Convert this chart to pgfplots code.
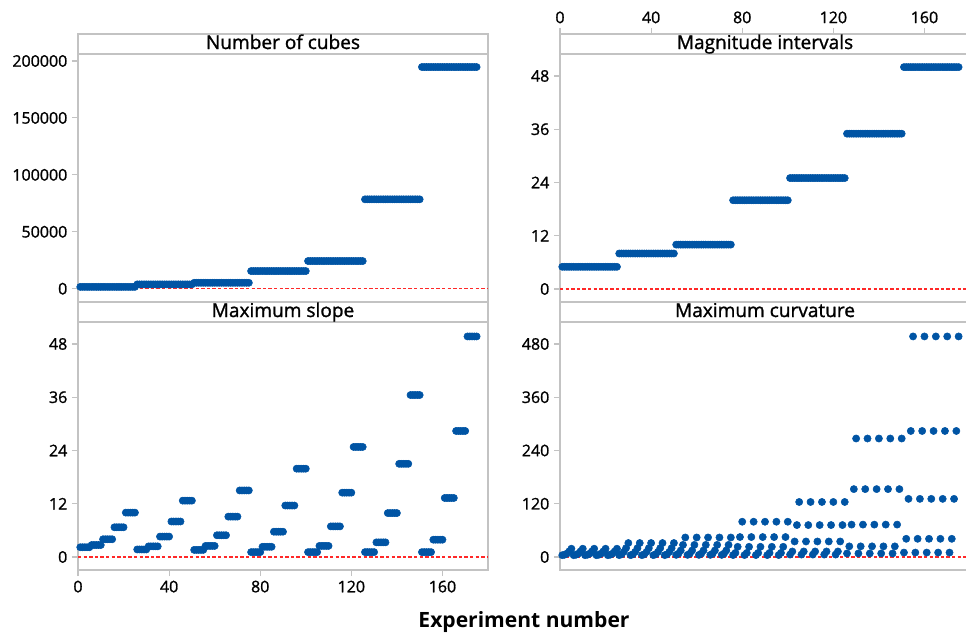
\documentclass[border=0pt]{standalone}
\usepackage{pgfplots}
\pgfplotsset{compat=1.18}
\usepackage{pgfplotstable}
\usepackage{fontspec}
\setmainfont{Open Sans}
\newfontfamily\heavy{Open Sans}[UprightFeatures={FakeBold=1.2}]
\definecolor{mblue}{RGB}{0,84,164}
\definecolor{frame}{RGB}{195,195,195}
\definecolor{refred}{RGB}{255,40,40}
\pgfplotstableread{
x cubes mag slope curv
1 1600 5 2.2 4.1
2 1600 5 2.2 5.1
3 1600 5 2.2 7.5
4 1600 5 2.2 12.6
5 1600 5 2.2 18.7
6 1600 5 2.7 4.1
7 1600 5 2.7 5.1
8 1600 5 2.7 7.5
9 1600 5 2.7 12.6
10 1600 5 2.7 18.7
11 1600 5 4.0 4.1
12 1600 5 4.0 5.1
13 1600 5 4.0 7.5
14 1600 5 4.0 12.6
15 1600 5 4.0 18.7
16 1600 5 6.7 4.1
17 1600 5 6.7 5.1
18 1600 5 6.7 7.5
19 1600 5 6.7 12.6
20 1600 5 6.7 18.7
21 1600 5 10.0 4.1
22 1600 5 10.0 5.1
23 1600 5 10.0 7.5
24 1600 5 10.0 12.6
25 1600 5 10.0 18.7
26 3800 8 1.7 4.2
27 3800 8 1.7 6.0
28 3800 8 1.7 11.5
29 3800 8 1.7 20
30 3800 8 1.7 31.5
31 3800 8 2.4 4.2
32 3800 8 2.4 6.0
33 3800 8 2.4 11.5
34 3800 8 2.4 20
35 3800 8 2.4 31.5
36 3800 8 4.6 4.2
37 3800 8 4.6 6.0
38 3800 8 4.6 11.5
39 3800 8 4.6 20
40 3800 8 4.6 31.5
41 3800 8 8.0 4.2
42 3800 8 8.0 6.0
43 3800 8 8.0 11.5
44 3800 8 8.0 20
45 3800 8 8.0 31.5
46 3800 8 12.7 4.2
47 3800 8 12.7 6.0
48 3800 8 12.7 11.5
49 3800 8 12.7 20
50 3800 8 12.7 31.5
51 5200 10 1.6 4.8
52 5200 10 1.6 7.5
53 5200 10 1.6 14.7
54 5200 10 1.6 27.3
55 5200 10 1.6 44
56 5200 10 2.5 4.8
57 5200 10 2.5 7.5
58 5200 10 2.5 14.7
59 5200 10 2.5 27.3
60 5200 10 2.5 44
61 5200 10 4.9 4.8
62 5200 10 4.9 7.5
63 5200 10 4.9 14.7
64 5200 10 4.9 27.3
65 5200 10 4.9 44
66 5200 10 9.1 4.8
67 5200 10 9.1 7.5
68 5200 10 9.1 14.7
69 5200 10 9.1 27.3
70 5200 10 9.1 44
71 5200 10 15.0 4.8
72 5200 10 15.0 7.5
73 5200 10 15.0 14.7
74 5200 10 15.0 27.3
75 5200 10 15.0 44
76 15500 20 1.1 4.4
77 15500 20 1.1 9.2
78 15500 20 1.1 23
79 15500 20 1.1 45
80 15500 20 1.1 79.5
81 15500 20 2.3 4.4
82 15500 20 2.3 9.2
83 15500 20 2.3 23
84 15500 20 2.3 45
85 15500 20 2.3 79.5
86 15500 20 5.7 4.4
87 15500 20 5.7 9.2
88 15500 20 5.7 23
89 15500 20 5.7 45
90 15500 20 5.7 79.5
91 15500 20 11.6 4.4
92 15500 20 11.6 9.2
93 15500 20 11.6 23
94 15500 20 11.6 45
95 15500 20 11.6 79.5
96 15500 20 19.9 4.4
97 15500 20 19.9 9.2
98 15500 20 19.9 23
99 15500 20 19.9 45
100 15500 20 19.9 79.5
101 24300 25 1.1 5.5
102 24300 25 1.1 12.5
103 24300 25 1.1 35
104 24300 25 1.1 72
105 24300 25 1.1 124
106 24300 25 2.5 5.5
107 24300 25 2.5 12.5
108 24300 25 2.5 35
109 24300 25 2.5 72
110 24300 25 2.5 124
111 24300 25 6.9 5.5
112 24300 25 6.9 12.5
113 24300 25 6.9 35
114 24300 25 6.9 72
115 24300 25 6.9 124
116 24300 25 14.5 5.5
117 24300 25 14.5 12.5
118 24300 25 14.5 35
119 24300 25 14.5 72
120 24300 25 14.5 124
121 24300 25 24.8 5.5
122 24300 25 24.8 12.5
123 24300 25 24.8 35
124 24300 25 24.8 72
125 24300 25 24.8 124
126 78500 35 1.1 8
127 78500 35 1.1 24
128 78500 35 1.1 73
129 78500 35 1.1 153
130 78500 35 1.1 267
131 78500 35 3.3 8
132 78500 35 3.3 24
133 78500 35 3.3 73
134 78500 35 3.3 153
135 78500 35 3.3 267
136 78500 35 9.9 8
137 78500 35 9.9 24
138 78500 35 9.9 73
139 78500 35 9.9 153
140 78500 35 9.9 267
141 78500 35 21.0 8
142 78500 35 21.0 24
143 78500 35 21.0 73
144 78500 35 21.0 153
145 78500 35 21.0 267
146 78500 35 36.5 8
147 78500 35 36.5 24
148 78500 35 36.5 73
149 78500 35 36.5 153
150 78500 35 36.5 267
151 194700 50 1.1 10
152 194700 50 1.1 41
153 194700 50 1.1 131
154 194700 50 1.1 284
155 194700 50 1.1 497
156 194700 50 3.9 10
157 194700 50 3.9 41
158 194700 50 3.9 131
159 194700 50 3.9 284
160 194700 50 3.9 497
161 194700 50 13.3 10
162 194700 50 13.3 41
163 194700 50 13.3 131
164 194700 50 13.3 284
165 194700 50 13.3 497
166 194700 50 28.4 10
167 194700 50 28.4 41
168 194700 50 28.4 131
169 194700 50 28.4 284
170 194700 50 28.4 497
171 194700 50 49.7 10
172 194700 50 49.7 41
173 194700 50 49.7 131
174 194700 50 49.7 284
175 194700 50 49.7 497
}\data
\pgfplotsset{
  panel/.style={
    scale only axis, width=307.5pt, height=201pt,
    xmin=0, xmax=180,
    axis line style={draw=frame, line width=0.8pt},
    every tick/.style={draw=frame, line width=0.8pt},
    major tick length=4.5pt,
    tick align=outside,
    ytick pos=left,
    xtick={0,40,80,120,160},
    tick label style={font=\heavy\fontsize{12}{13}\selectfont, text=black},
    /pgf/number format/assume math mode=true,
    scaled y ticks=false,
    yticklabel style={/pgf/number format/fixed, /pgf/number format/1000 sep={}},
    clip=false,
  },
  dots/.style={only marks, mark=*, mark size=2.7pt, color=mblue, mark options={draw=none, fill=mblue}},
  zero/.style={refred, line width=0.9pt, dash pattern=on 2.6pt off 1.6pt, forget plot},
}
\newcommand{\strip}[1]{%
  \draw[frame, line width=0.8pt] (rel axis cs:0,0.92537) -- (rel axis cs:1,0.92537);
  \node[font=\heavy\fontsize{14.3}{16}\selectfont, anchor=base, inner sep=0pt] at (rel axis cs:0.5,0.944) {#1};}
\begin{document}
\begin{tikzpicture}
\path[use as bounding box] (0,0) rectangle (724.5pt,477.75pt);
% top-left
\begin{axis}[panel, at={(58.5pt,251.25pt)}, anchor=south west,
  ymin=-11682, ymax=223716, ytick={0,50000,100000,150000,200000}, xmajorticks=false]
  \addplot[zero] coordinates {(0,0) (180,0)};
  \addplot[dots] table[x=x,y=cubes] {\data};
  \strip{Number of cubes}
\end{axis}
% top-right
\begin{axis}[panel, at={(420pt,251.25pt)}, anchor=south west,
  ymin=-2.93, ymax=57.46, ytick={0,12,24,36,48}, xtick pos=right, xticklabel pos=right]
  \addplot[zero] coordinates {(0,0) (180,0)};
  \addplot[dots] table[x=x,y=mag] {\data};
  \strip{Magnitude intervals}
\end{axis}
% bottom-left
\begin{axis}[panel, at={(58.5pt,50.25pt)}, anchor=south west,
  ymin=-2.93, ymax=57.46, ytick={0,12,24,36,48}, xtick pos=left]
  \addplot[zero] coordinates {(0,0) (180,0)};
  \addplot[dots] table[x=x,y=slope] {\data};
  \strip{Maximum slope}
\end{axis}
% bottom-right
\begin{axis}[panel, at={(420pt,50.25pt)}, anchor=south west,
  ymin=-29.3, ymax=574.6, ytick={0,120,240,360,480}, xmajorticks=false]
  \addplot[zero] coordinates {(0,0) (180,0)};
  \addplot[dots] table[x=x,y=curv] {\data};
  \strip{Maximum curvature}
\end{axis}
\node[anchor=base, font=\fontsize{15.8}{18}\selectfont\bfseries] at (393pt,7pt) {Experiment number};
\end{tikzpicture}
\end{document}
